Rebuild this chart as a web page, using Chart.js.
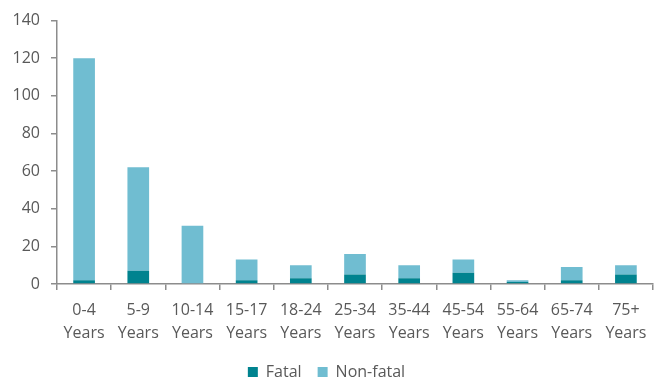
<!DOCTYPE html>
<html>
<head>
<meta charset="utf-8">
<script src="https://cdn.jsdelivr.net/npm/chart.js@4"></script>
<style>
  html, body { margin: 0; padding: 0; background: #fff; }
  #wrap { width: 663px; height: 381px; }
</style>
</head>
<body>
<div id="wrap"><canvas id="c" width="663" height="381"></canvas></div>
<script>
// Age groups (two-line labels)
const ageGroups = [
  ['0-4', 'Years'], ['5-9', 'Years'], ['10-14', 'Years'], ['15-17', 'Years'],
  ['18-24', 'Years'], ['25-34', 'Years'], ['35-44', 'Years'], ['45-54', 'Years'],
  ['55-64', 'Years'], ['65-74', 'Years'], ['75+', 'Years']
];
const fatal    = [2, 7, 0, 2, 3, 5, 3, 6, 1, 2, 5];
const nonFatal = [118, 55, 31, 11, 7, 11, 7, 7, 1, 7, 5];
const seriesNames = ['Fatal', 'Non-fatal'];

const axisGrey = '#8c8c8c';
const textGrey = '#595959';
const fontFamily = '"Open Sans", sans-serif';

new Chart(document.getElementById('c'), {
  type: 'bar',
  data: {
    labels: ageGroups,
    datasets: [
      { label: seriesNames[0], data: fatal, backgroundColor: '#00838f',
        barPercentage: 0.4, categoryPercentage: 1.0 },
      { label: seriesNames[1], data: nonFatal, backgroundColor: '#70bdd1',
        barPercentage: 0.4, categoryPercentage: 1.0 }
    ]
  },
  options: {
    responsive: false,
    animation: false,
    layout: { padding: { top: 15, right: 10, left: 0, bottom: -9 } },
    plugins: {
      tooltip: { enabled: false },
      legend: {
        position: 'bottom',
        labels: {
          boxWidth: 10, boxHeight: 10, padding: 16,
          color: textGrey,
          font: { family: fontFamily, size: 16 }
        }
      }
    },
    scales: {
      x: {
        stacked: true,
        border: { color: axisGrey, width: 1.5 },
        grid: { display: true, drawOnChartArea: false, drawTicks: true, tickLength: 6, color: axisGrey, lineWidth: 1.5, offset: true },
        ticks: { color: textGrey, padding: 9, maxRotation: 0, autoSkip: false,
                 font: { family: fontFamily, size: 16, lineHeight: 1.45 } },
        afterFit: (s) => { s.height = 64; }
      },
      y: {
        stacked: true,
        min: 0, max: 140,
        border: { color: axisGrey, width: 1.5 },
        grid: { display: true, drawOnChartArea: false, drawTicks: true, tickLength: 6, color: axisGrey, lineWidth: 1.5 },
        ticks: { stepSize: 20, color: textGrey, padding: 11,
                 font: { family: fontFamily, size: 16 } },
        afterFit: (s) => { s.width = 57; }
      }
    }
  }
});
</script>
</body>
</html>
